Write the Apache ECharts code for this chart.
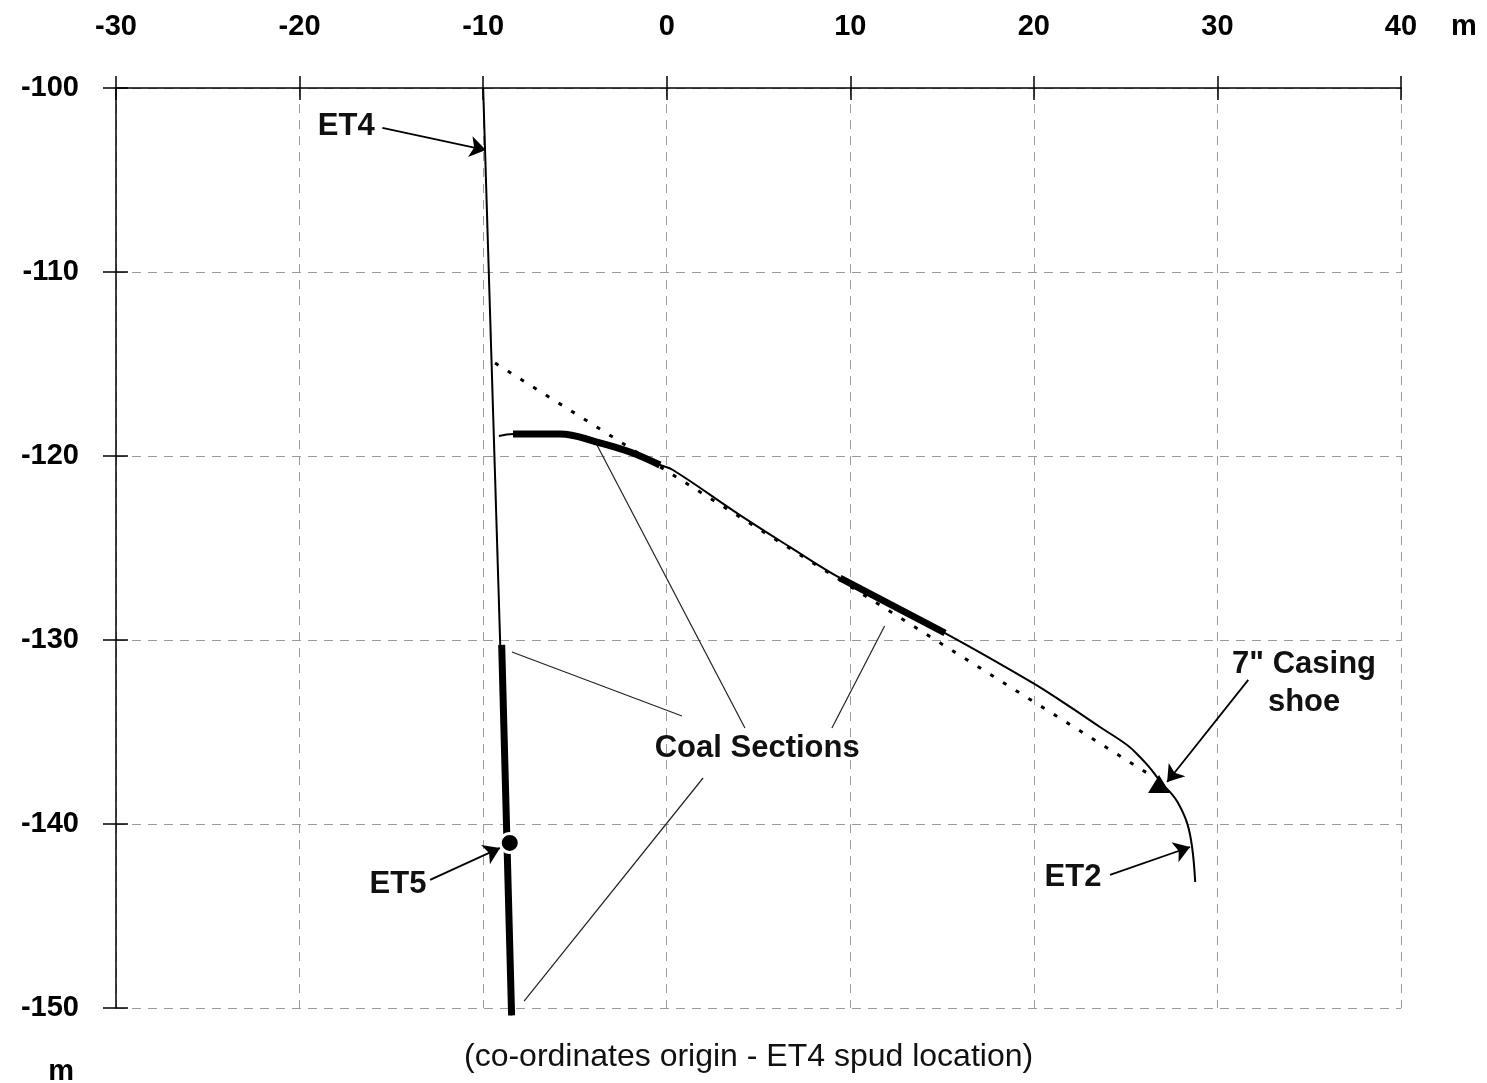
<!DOCTYPE html>
<html><head><meta charset="utf-8">
<script src="https://cdn.jsdelivr.net/npm/echarts@6/dist/echarts.min.js"></script>
<style>html,body{margin:0;padding:0;background:#fff}#c{width:1487px;height:1083px}</style>
</head><body><div id="c"></div>
<script>
// ---- axis ticks ----
const xTickValues = [-30, -20, -10, 0, 10, 20, 30, 40];
const yTickValues = [-100, -110, -120, -130, -140, -150];
const axisUnit = 'm';
const footnote = '(co-ordinates origin - ET4 spud location)';

// ---- well trajectories (x m, depth m) ----
const et4Well = [[-10, -100], [-8.45, -150.4]];
const et4Coal = [[-8.99, -130.27], [-8.45, -150.4]];
const et5Point = [[-8.55, -141.03]];
const et2Well = [
  [-9.14, -118.91], [-8.37, -118.80], [-5.81, -118.80], [-3.80, -119.24], [-2.00, -119.78],
  [-0.37, -120.49], [0.34, -120.76], [3.99, -123.21], [6.72, -124.95], [9.44, -126.63],
  [15.16, -129.62], [19.96, -132.34], [21.81, -133.53], [23.60, -134.73], [25.08, -135.71],
  [25.78, -136.36], [26.33, -136.96], [26.71, -137.45], [27.10, -137.95], [27.47, -138.32],
  [27.86, -138.86], [28.35, -139.95], [28.62, -141.25], [28.79, -143.15]
];
const et2Coal1 = [[-8.37, -118.80], [-5.81, -118.80], [-3.80, -119.24], [-2.00, -119.78], [-0.37, -120.49]];
const et2Coal2 = [[9.44, -126.63], [15.16, -129.62]];
const plannedLine = [[-9.35, -114.95], [26.60, -137.50]];
const casingShoe = [[26.82, -137.83]];

// ---- annotations ----
const leaderLines = [
  [[-8.43, -130.65], [0.83, -134.13]],
  [[-3.80, -119.40], [4.26, -134.78]],
  [[11.87, -129.24], [9.00, -134.78]],
  [[-7.77, -149.62], [1.98, -137.50]]
];
const arrowLines = [
  [[-15.49, -102.17], [-9.85, -103.37]],
  [[-12.89, -143.04], [-9.08, -141.30]],
  [[24.15, -142.77], [28.51, -141.25]],
  [[31.68, -132.17], [27.26, -137.72]]
];
const labelTexts = ['ET4', 'ET5', 'ET2', 'Coal Sections', '7" Casing\nshoe'];
const labelPositions = [[-17.46, -102.07], [-14.64, -143.26], [22.13, -142.93], [4.93, -135.92], [34.72, -132.34]];

const FONT = 'Liberation Sans, Arial, sans-serif';
const chart = echarts.init(document.getElementById('c'), null, {renderer: 'canvas'});
const black = '#000';
const gridDash = {color: '#9a9a9a', width: 1, type: [9, 7]};

const option = {
  animation: false,
  backgroundColor: '#fff',
  title: {
    text: footnote, left: 464, top: 1041, padding: 0,
    textStyle: {fontFamily: FONT, fontSize: 32, fontWeight: 'normal', color: '#111'}
  },
  grid: {left: 116, right: 86, top: 88, bottom: 75, containLabel: false, outerBoundsMode: 'none'},
  xAxis: [
    {
      type: 'value', position: 'top',
      min: xTickValues[0], max: xTickValues[xTickValues.length - 1], interval: 10,
      name: axisUnit, nameLocation: 'end', nameGap: 50,
      nameTextStyle: {fontFamily: FONT, fontSize: 29, fontWeight: 'bold', color: black, verticalAlign: 'bottom', padding: [0, 0, 47, 0]},
      axisLine: {show: true, onZero: false, lineStyle: {color: black, width: 1.5}},
      axisTick: {show: true, length: 12, lineStyle: {color: black, width: 1.5}},
      axisLabel: {fontFamily: FONT, fontSize: 29, fontWeight: 'bold', color: black, margin: 47},
      splitLine: {show: true, lineStyle: gridDash}
    },
    {
      type: 'value', position: 'top',
      min: xTickValues[0], max: xTickValues[xTickValues.length - 1], interval: 10,
      axisLine: {show: false, onZero: false},
      axisTick: {show: true, inside: true, length: 12, lineStyle: {color: black, width: 1.5}},
      axisLabel: {show: false}, splitLine: {show: false}
    }
  ],
  yAxis: [
    {
      type: 'value', position: 'left',
      min: yTickValues[yTickValues.length - 1], max: yTickValues[0], interval: 10,
      name: axisUnit, nameLocation: 'start', nameGap: 49,
      nameTextStyle: {fontFamily: FONT, fontSize: 29, fontWeight: 'bold', color: black, align: 'right', padding: [0, 42, 0, 0]},
      axisLine: {show: true, onZero: false, lineStyle: {color: black, width: 1.5}},
      axisTick: {show: true, length: 13, lineStyle: {color: black, width: 1.5}},
      axisLabel: {fontFamily: FONT, fontSize: 29, fontWeight: 'bold', color: black, margin: 37},
      splitLine: {show: true, lineStyle: gridDash}
    },
    {
      type: 'value', position: 'left',
      min: yTickValues[yTickValues.length - 1], max: yTickValues[0], interval: 10,
      axisLine: {show: false, onZero: false},
      axisTick: {show: true, inside: true, length: 12, lineStyle: {color: black, width: 1.5}},
      axisLabel: {show: false}, splitLine: {show: false}
    }
  ],
  series: [
    {
      name: 'planned', type: 'line', data: plannedLine, symbol: 'none', silent: true,
      lineStyle: {color: black, width: 3, type: [4, 11]}
    },
    {
      name: 'ET4', type: 'line', data: et4Well, symbol: 'none', silent: true, clip: false,
      lineStyle: {color: black, width: 2}
    },
    {
      name: 'ET4 coal', type: 'line', data: et4Coal, symbol: 'none', silent: true, clip: false,
      lineStyle: {color: black, width: 7}
    },
    {
      name: 'ET2', type: 'line', data: et2Well, symbol: 'none', silent: true, smooth: 0.4,
      lineStyle: {color: black, width: 2}
    },
    {
      name: 'ET2 coal 1', type: 'line', data: et2Coal1, symbol: 'none', silent: true, smooth: 0.4,
      lineStyle: {color: black, width: 7}
    },
    {
      name: 'ET2 coal 2', type: 'line', data: et2Coal2, symbol: 'none', silent: true,
      lineStyle: {color: black, width: 7}
    },
    {
      name: 'leaders', type: 'lines', coordinateSystem: 'cartesian2d', silent: true,
      symbol: ['none', 'none'],
      lineStyle: {color: '#222', width: 1.2, opacity: 1, curveness: 0},
      data: leaderLines.map(c => ({coords: c}))
    },
    {
      name: 'arrows', type: 'lines', coordinateSystem: 'cartesian2d', silent: true,
      symbol: ['none', 'arrow'], symbolSize: [1, 16],
      lineStyle: {color: black, width: 1.8, opacity: 1, curveness: 0},
      data: arrowLines.map(c => ({coords: c}))
    },
    {
      name: 'ET5', type: 'scatter', data: et5Point, symbol: 'circle', symbolSize: 19, silent: true,
      itemStyle: {color: black, opacity: 1, borderColor: '#fff', borderWidth: 3}, z: 5
    },
    {
      name: 'casing shoe', type: 'scatter', data: casingShoe, symbol: 'triangle', symbolSize: [22, 18], silent: true,
      itemStyle: {color: black, opacity: 1}, z: 5
    },
    {
      name: 'labels', type: 'scatter', silent: true, symbolSize: 1,
      itemStyle: {color: 'rgba(0,0,0,0)', opacity: 1},
      data: labelPositions.map((p, i) => ({value: p, name: labelTexts[i]})),
      label: {
        show: true, position: 'inside', formatter: p => p.name,
        fontFamily: FONT, fontSize: 31, fontWeight: 'bold', color: '#111',
        lineHeight: 38, align: 'center', verticalAlign: 'middle'
      }, z: 6
    }
  ]
};
chart.setOption(option);
</script>
</body></html>
